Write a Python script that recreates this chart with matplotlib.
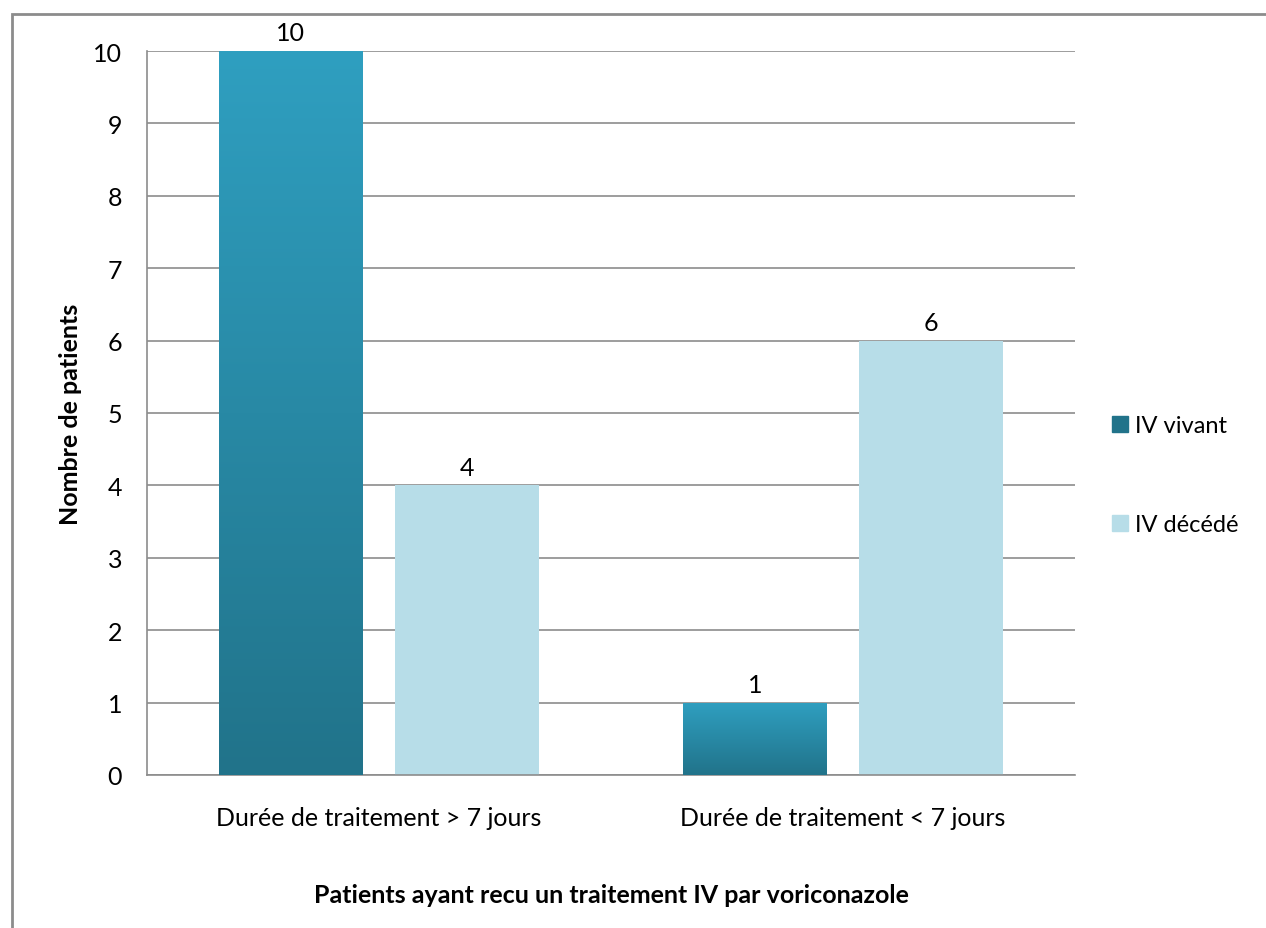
import numpy as np
import matplotlib.pyplot as plt
from matplotlib.patches import Rectangle

plt.rcParams['font.family'] = ['Lato', 'DejaVu Sans']

# --- données ---
categories = ["Durée de traitement > 7 jours", "Durée de traitement < 7 jours"]
series_names = ["IV vivant", "IV décédé"]
vivant = [10, 1]
decede = [4, 6]

col_top = "#2f9fc0"
col_bot = "#21738a"
col_light = "#b7dde8"
grid_col = "#8c8c8c"

fig = plt.figure(figsize=(12.66, 9.29), dpi=100)
ax = fig.add_axes([147/1266, 1 - 776/929, (1075-147)/1266, (776-52)/929])

x = np.arange(len(categories))
w = 0.31
off = 0.19

bars_v = ax.bar(x - off, vivant, w, color=col_top, zorder=2)
bars_d = ax.bar(x + off, decede, w, color=col_light, zorder=2)

# dégradé vertical sur les barres foncées
grad = np.linspace(0, 1, 256).reshape(-1, 1)
cmap = plt.matplotlib.colors.LinearSegmentedColormap.from_list("g", [col_bot, col_top])
for b in bars_v:
    x0, y0 = b.get_x(), b.get_y()
    im = ax.imshow(grad, extent=[x0, x0 + b.get_width(), y0, y0 + b.get_height()],
                   origin="lower", cmap=cmap, aspect="auto", zorder=3)
    im.set_clip_path(b)

# étiquettes de valeur
for bars, vals in [(bars_v, vivant), (bars_d, decede)]:
    for b, v in zip(bars, vals):
        ax.text(b.get_x() + b.get_width()/2, v + 0.09, str(v), ha="center", va="bottom",
                fontsize=18, zorder=4)

ax.set_xlim(-0.5, 1.5)
ax.set_ylim(0, 10)
ax.set_yticks(range(0, 11))
ax.set_xticks(x)
ax.set_xticklabels(categories, fontsize=18)
ax.tick_params(axis="y", labelsize=18, length=0, pad=18)
ax.tick_params(axis="x", length=0, pad=22)
ax.grid(axis="y", color=grid_col, linewidth=1.2, zorder=0)
ax.set_axisbelow(True)
for s in ["top", "right"]:
    ax.spines[s].set_visible(False)
for s in ["left", "bottom"]:
    ax.spines[s].set_color(grid_col)
    ax.spines[s].set_linewidth(1.2)

ax.set_ylabel("Nombre de patients", fontsize=18, fontweight="bold", labelpad=8)
ax.set_xlabel("Patients ayant recu un traitement IV par voriconazole", fontsize=18,
              fontweight="bold", labelpad=39)

# légende
leg_handles = [Rectangle((0, 0), 1, 1, color=col_bot), Rectangle((0, 0), 1, 1, color=col_light)]
fig.legend(leg_handles, series_names, loc="center left", bbox_to_anchor=(1091/1266, 1 - 476/929),
           frameon=False, fontsize=17, handlelength=0.65, handleheight=0.65, handletextpad=0.3,
           labelspacing=3.3)

# cadre extérieur
fig.patches.append(Rectangle((12/1266, -0.1), 1.1, (929 - 15)/929 + 0.1, transform=fig.transFigure,
                             fill=False, edgecolor="#8c8c8c", linewidth=2))

fig.savefig("out.png", dpi=100)
